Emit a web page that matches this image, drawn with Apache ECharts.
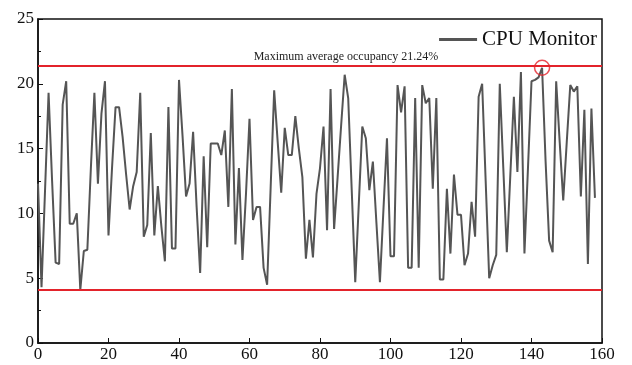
<!DOCTYPE html>
<html>
<head>
<meta charset="utf-8">
<script src="https://cdn.jsdelivr.net/npm/echarts@6/dist/echarts.min.js"></script>
<style>
  html, body { margin: 0; padding: 0; background: #fff; }
  #chart { width: 632px; height: 365px; }
</style>
</head>
<body>
<div id="chart"></div>
<script>
// CPU occupancy samples, one per step (x = index)
const cpuLoad = [
  12.3, 4.3, 11.8, 19.3, 12.5, 6.2, 6.1, 18.4, 20.2, 9.2,
  9.2, 10.0, 4.1, 7.1, 7.2, 13.5, 19.3, 12.3, 17.7, 20.2,
  8.3, 13.5, 18.2, 18.2, 15.9, 13.0, 10.3, 12.1, 13.2, 19.3,
  8.2, 9.1, 16.2, 8.3, 12.1, 9.0, 6.3, 18.2, 7.3, 7.3,
  20.3, 16.0, 11.3, 12.3, 16.3, 10.5, 5.4, 14.4, 7.4, 15.4,
  15.4, 15.4, 14.5, 16.4, 10.5, 19.6, 7.6, 13.5, 6.4, 11.5,
  17.3, 9.5, 10.5, 10.5, 5.8, 4.5, 12.0, 19.5, 15.5, 11.6,
  16.6, 14.5, 14.5, 17.5, 15.0, 12.8, 6.5, 9.5, 6.6, 11.5,
  13.5, 16.7, 8.7, 19.6, 8.8, 12.8, 16.8, 20.7, 18.9, 11.8,
  4.7, 10.7, 16.7, 15.8, 11.8, 14.0, 9.3, 4.7, 10.3, 15.8,
  6.7, 6.7, 19.9, 17.8, 19.8, 5.8, 5.8, 18.9, 5.8, 19.9,
  18.5, 18.9, 11.9, 18.9, 4.9, 4.9, 11.9, 6.9, 13.0, 9.9,
  9.9, 6.0, 6.9, 10.9, 8.2, 19.0, 20.0, 12.5, 5.0, 6.0,
  6.8, 20.0, 13.5, 7.0, 13.0, 19.0, 13.2, 20.9, 6.9, 13.5,
  20.2, 20.3, 20.5, 21.24, 14.0, 7.9, 7.0, 20.2, 15.5, 11.0,
  15.5, 19.9, 19.4, 19.8, 11.3, 18.0, 6.1, 18.1, 11.2
];
const limitLines = [21.4, 4.1];   // upper / lower red lines
const peakPoint = [143, 21.24];   // circled maximum
const xTicks = [0, 160, 20];      // min, max, interval
const yTicks = [0, 25, 5];

const RED = '#e3232b';
const SERIF = '"Liberation Serif", "DejaVu Serif", serif';

const chart = echarts.init(document.getElementById('chart'), null, { renderer: 'canvas' });

chart.setOption({
  backgroundColor: '#fff',
  animation: false,
  grid: {
    left: 38, right: 30, top: 19, bottom: 22,
    show: true, borderColor: '#111', borderWidth: 1.5, backgroundColor: 'transparent'
  },
  legend: {
    data: ['CPU Monitor'],
    right: 30, top: 24,
    icon: 'rect', itemWidth: 38, itemHeight: 3, itemGap: 6,
    textStyle: { fontFamily: SERIF, fontSize: 21, color: '#111' }
  },
  xAxis: {
    type: 'value',
    min: xTicks[0], max: xTicks[1], interval: xTicks[2],
    axisLine: { lineStyle: { color: '#111', width: 1.5 } },
    axisTick: { inside: true, length: 5, lineStyle: { color: '#111' } },
    axisLabel: { fontFamily: SERIF, fontSize: 17, color: '#111', margin: 3 },
    splitLine: { show: false }
  },
  yAxis: {
    type: 'value',
    min: yTicks[0], max: yTicks[1], interval: yTicks[2],
    axisLine: { show: true, lineStyle: { color: '#111', width: 1.5 } },
    axisTick: { show: true, inside: true, length: 5, lineStyle: { color: '#111' } },
    minorTick: { show: true, splitNumber: 2, length: 3, lineStyle: { color: '#111' } },
    axisLabel: { fontFamily: SERIF, fontSize: 17, color: '#111', margin: 4 },
    splitLine: { show: false }
  },
  series: [
    {
      name: 'CPU Monitor',
      type: 'line',
      data: cpuLoad.map((v, i) => [i, v]),
      showSymbol: false,
      symbol: 'none',
      lineStyle: { color: '#555', width: 2 },
      itemStyle: { color: '#555' },
      markLine: {
        silent: true,
        symbol: 'none',
        lineStyle: { color: RED, width: 2, type: 'solid' },
        data: [
          {
            yAxis: limitLines[0],
            label: {
              show: true,
              position: 'insideMiddleTop',
              formatter: 'Maximum average occupancy 21.24%',
              fontFamily: SERIF, fontSize: 12, color: '#222',
              distance: 3,
              offset: [26, 0]
            }
          },
          { yAxis: limitLines[1], label: { show: false } }
        ]
      }
    },
    {
      type: 'scatter',
      data: [peakPoint],
      symbol: 'circle',
      symbolSize: 15,
      silent: true,
      itemStyle: { color: 'rgba(0,0,0,0)', borderColor: RED, borderWidth: 1.5 },
      z: 5
    }
  ]
});
</script>
</body>
</html>
